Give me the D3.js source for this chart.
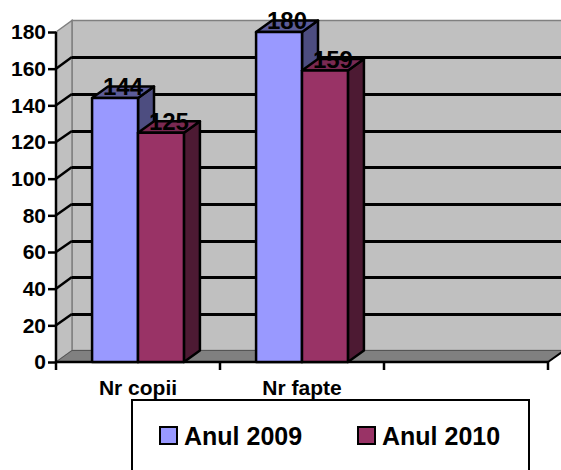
<!DOCTYPE html>
<html>
<head>
<meta charset="utf-8">
<script src="https://cdn.jsdelivr.net/npm/d3@7"></script>
<style>
  body { margin: 0; background: #fff; }
  text { font-family: Arial, "Liberation Sans", sans-serif; font-weight: bold; }
</style>
</head>
<body>
<div id="chart"></div>
<script>
"use strict";

// data
const categories = ["Nr copii", "Nr fapte", ""];
const seriesNames = ["Anul 2009", "Anul 2010"];
const values2009 = [144, 180, null];
const values2010 = [125, 159, null];
const yTicks = [0, 20, 40, 60, 80, 100, 120, 140, 160, 180];

const colors = {
  "Anul 2009": { front: "#9999ff", top: "#5c5c99", side: "#4d4d80" },
  "Anul 2010": { front: "#993366", top: "#7a2952", side: "#4d1a33" }
};

const width = 561, height = 470;
const plot = { left: 56, right: 548, top: 32, bottom: 362 };
const dx = 16, dy = 11.5; // depth offset

const svg = d3.select("#chart").append("svg")
    .attr("width", width)
    .attr("height", height);

const y = d3.scaleLinear().domain([0, 180]).range([plot.bottom, plot.top]);
const x = d3.scaleBand().domain(categories).range([plot.left, plot.right]);
const xs = d3.scaleBand().domain(seriesNames)
    .range([x.bandwidth() * 0.22, x.bandwidth() * 0.78]);

// walls
const wall = svg.append("g");
wall.append("rect") // back wall
    .attr("x", plot.left + dx).attr("y", plot.top - dy)
    .attr("width", plot.right - plot.left).attr("height", plot.bottom - plot.top)
    .attr("fill", "#c0c0c0").attr("stroke", "#808080").attr("stroke-width", 1.5);
wall.append("polygon") // left wall
    .attr("points", [[plot.left, plot.top], [plot.left + dx, plot.top - dy],
                     [plot.left + dx, plot.bottom - dy], [plot.left, plot.bottom]].join(" "))
    .attr("fill", "#c0c0c0").attr("stroke", "#808080").attr("stroke-width", 1.5);
wall.append("polygon") // floor
    .attr("points", [[plot.left, plot.bottom], [plot.right, plot.bottom],
                     [plot.right + dx, plot.bottom - dy], [plot.left + dx, plot.bottom - dy]].join(" "))
    .attr("fill", "#808080").attr("stroke", "#555").attr("stroke-width", 1);
wall.append("line")
    .attr("x1", plot.right).attr("y1", plot.bottom)
    .attr("x2", plot.right + dx).attr("y2", plot.bottom - dy)
    .attr("stroke", "#000").attr("stroke-width", 2);

// gridlines
const grid = yTicks.filter(d => d > 0 && d < 180);
wall.selectAll(".gridback").data(grid).join("line")
    .attr("class", "gridback")
    .attr("x1", plot.left + dx).attr("x2", plot.right + dx + 10)
    .attr("y1", d => Math.round(y(d) - dy)).attr("y2", d => Math.round(y(d) - dy))
    .attr("stroke", "#000").attr("stroke-width", 3)
    .attr("shape-rendering", "crispEdges");
wall.selectAll(".gridside").data(grid).join("line")
    .attr("class", "gridside")
    .attr("x1", plot.left).attr("x2", plot.left + dx)
    .attr("y1", d => y(d)).attr("y2", d => Math.round(y(d) - dy))
    .attr("stroke", "#000").attr("stroke-width", 2.5);

// axes
svg.append("g")
    .attr("transform", `translate(${plot.left},0)`)
    .call(d3.axisLeft(y).tickValues(yTicks).tickSize(8).tickPadding(2))
    .call(g => g.selectAll("line, path").attr("stroke", "#000").attr("stroke-width", 2.5))
    .call(g => g.select(".domain").attr("d", `M0,${plot.top}V${plot.bottom}`))
    .call(g => g.selectAll("text").attr("font-size", 21).attr("fill", "#000")
        .attr("font-family", "Arial, 'Liberation Sans', sans-serif").attr("font-weight", "bold"));

const xAxis = svg.append("g").attr("transform", `translate(0,${plot.bottom})`);
xAxis.append("line")
    .attr("x1", plot.left).attr("x2", plot.right)
    .attr("stroke", "#000").attr("stroke-width", 2.5);
const xTickPos = categories.map(c => x(c)).concat([plot.right]);
xAxis.selectAll(".xt").data(xTickPos).join("line")
    .attr("x1", d => d).attr("x2", d => d).attr("y1", 0).attr("y2", 8)
    .attr("stroke", "#000").attr("stroke-width", 2.5);
xAxis.selectAll(".xl").data(categories).join("text")
    .attr("x", d => x(d) + x.bandwidth() / 2).attr("y", 33)
    .attr("text-anchor", "middle").attr("font-size", 21).attr("fill", "#000")
    .text(d => d);

// bars
const rows = [];
categories.forEach((c, i) => {
  [values2009[i], values2010[i]].forEach((v, j) => {
    if (v != null) rows.push({ cat: c, series: seriesNames[j], value: v });
  });
});

const bars = svg.append("g");
rows.forEach(d => {
  const x0 = x(d.cat) + xs(d.series), x1 = x0 + xs.bandwidth();
  const yv = y(d.value), y0 = y(0);
  const col = colors[d.series];
  const g = bars.append("g").attr("stroke", "#000").attr("stroke-width", 2.5)
      .attr("stroke-linejoin", "round");
  g.append("polygon")
      .attr("points", [[x1, yv], [x1 + dx, yv - dy], [x1 + dx, y0 - dy], [x1, y0]].join(" "))
      .attr("fill", col.side);
  g.append("polygon")
      .attr("points", [[x0, yv], [x1, yv], [x1 + dx, yv - dy], [x0 + dx, yv - dy]].join(" "))
      .attr("fill", col.top);
  g.append("rect")
      .attr("x", x0).attr("y", yv).attr("width", x1 - x0).attr("height", y0 - yv)
      .attr("fill", col.front);
});

// value labels
svg.append("g").selectAll("text").data(rows).join("text")
    .attr("x", d => x(d.cat) + xs(d.series) + xs.bandwidth() / 2 + dx / 2)
    .attr("y", d => y(d.value) - 3)
    .attr("text-anchor", "middle").attr("font-size", 24).attr("fill", "#000")
    .text(d => d.value);

// legend
const legend = svg.append("g");
legend.append("rect")
    .attr("x", 132).attr("y", 400).attr("width", 397).attr("height", 90)
    .attr("fill", "#fff").attr("stroke", "#000").attr("stroke-width", 2);
const legendX = [160, 358];
seriesNames.forEach((s, i) => {
  legend.append("rect")
      .attr("x", legendX[i]).attr("y", 427).attr("width", 17).attr("height", 17)
      .attr("fill", colors[s].front).attr("stroke", "#000").attr("stroke-width", 2);
  legend.append("text")
      .attr("x", legendX[i] + 24).attr("y", 445)
      .attr("font-size", 25).attr("fill", "#000")
      .text(s);
});
</script>
</body>
</html>
